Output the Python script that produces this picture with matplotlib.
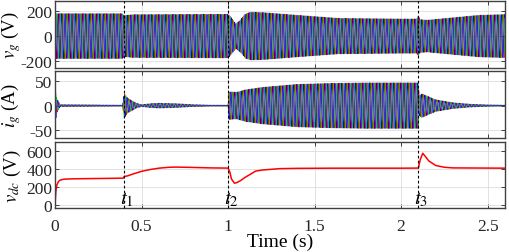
import matplotlib
matplotlib.use("Agg")
import matplotlib.pyplot as plt
import numpy as np
from matplotlib.lines import Line2D
from matplotlib.transforms import blended_transform_factory

plt.rcParams['font.family'] = ['Liberation Serif', 'DejaVu Serif']
plt.rcParams['mathtext.fontset'] = 'stix'

# event times
t_events = [0.4, 1.0, 2.1]
event_labels = ['$t_1$', '$t_2$', '$t_3$']

# grid voltage envelope (peak, V)
vg_env_t = [0, 0.39, 0.40, 0.45, 1.0, 1.01, 1.045, 1.07, 1.1, 1.13, 1.2, 1.4, 1.64,
            2.0, 2.09, 2.1, 2.11, 2.15, 2.3, 2.45, 2.6]
vg_env_a = [183, 183, 168, 175, 178, 165, 102, 130, 180, 195, 192, 170, 145,
            140, 140, 165, 135, 130, 150, 170, 176]

# grid current envelope (peak, A)
ig_env_t = [0, 0.01, 0.03, 0.39, 0.40, 0.42, 0.47, 0.5, 0.55, 0.6, 0.7, 0.8, 0.9,
            1.0, 1.005, 1.05, 1.1, 1.2, 1.4, 1.6, 1.8, 2.1, 2.105, 2.12, 2.2,
            2.3, 2.4, 2.5, 2.6]
ig_env_a = [40, 15, 2, 1, 25, 15, 5, 2, 4, 5, 4, 2, 1,
            1, 28, 27, 32, 37, 43, 45, 46, 46, 20, 24, 12,
            6, 3, 1.5, 1]

# dc-link voltage (V)
vdc_t = [0, 0.005, 0.01, 0.02, 0.03, 0.05, 0.1, 0.2, 0.3, 0.395, 0.40, 0.42, 0.45,
         0.5, 0.55, 0.6, 0.66, 0.7, 0.8, 0.9, 1.0, 1.01, 1.02, 1.037, 1.05, 1.07,
         1.1, 1.16, 1.2, 1.3, 1.4, 1.6, 2.0, 2.1, 2.11, 2.125, 2.14, 2.16, 2.2,
         2.25, 2.3, 2.6]
vdc_v = [0, 150, 220, 262, 278, 288, 292, 295, 297, 300, 318, 325, 345,
         375, 395, 410, 420, 422, 418, 413, 411, 370, 290, 244, 250, 270,
         310, 378, 390, 405, 408, 410, 410, 411, 500, 575, 540, 490, 440,
         420, 413, 410]

f_grid = 50.0
t = np.linspace(0, 2.6, 26000)
phase_colors = ['red', '#00cc00', 'blue']
phase_shift = [0, -2 * np.pi / 3, 2 * np.pi / 3]

vg_env = np.interp(t, vg_env_t, vg_env_a)
ig_env = np.interp(t, ig_env_t, ig_env_a)

fig = plt.figure(figsize=(5.09, 2.53), dpi=100)
left, width = 0.108, 0.884
ax1 = fig.add_axes([left, 0.727, width, 0.265])
ax2 = fig.add_axes([left, 0.451, width, 0.265])
ax3 = fig.add_axes([left, 0.174, width, 0.261])

for c, ph in zip(phase_colors, phase_shift):
    ax1.plot(t, vg_env * np.sin(2 * np.pi * f_grid * t + ph), color=c, lw=0.5)
    ax2.plot(t, ig_env * np.sin(2 * np.pi * f_grid * t + ph + 0.5), color=c, lw=0.5)
ax3.plot(vdc_t, vdc_v, color='red', lw=1.1)

ax1.set_ylim(-260, 285)
ax1.set_yticks([-200, 0, 200])
ax1.set_yticklabels(['-200', '0', '200'])
ax1.set_ylabel('$v_g$ (V)', fontsize=13.5)

ax2.set_ylim(-65, 70)
ax2.set_yticks([-50, 0, 50])
ax2.set_yticklabels(['-50', '0', '50'])
ax2.set_ylabel('$i_g$ (A)', fontsize=13.5)

ax3.set_ylim(-30, 700)
ax3.set_yticks([0, 200, 400, 600])
ax3.set_ylabel('$v_{dc}$ (V)', fontsize=13.5)
ax3.set_xlabel('Time (s)', fontsize=14, labelpad=-1)
ax3.set_xticks([0, 0.5, 1, 1.5, 2, 2.5])
ax3.set_xticklabels(['0', '0.5', '1', '1.5', '2', '2.5'])

for ax in (ax1, ax2, ax3):
    ax.set_xlim(0, 2.6)
    ax.yaxis.set_label_coords(-0.072, 0.5)
    ax.grid(True, color='#dddddd', lw=0.6)
    ax.set_axisbelow(True)
    ax.tick_params(direction='in', top=True, right=True, labelsize=12.5,
                   length=3, width=0.6, colors='#262626', pad=2)
    ax.tick_params(axis='x', pad=7)
    for s in ax.spines.values():
        s.set_color('#404040')
        s.set_linewidth(1.0)
for ax in (ax1, ax2):
    ax.tick_params(labelbottom=False)

trans = blended_transform_factory(ax3.transData, fig.transFigure)
for te, lab in zip(t_events, event_labels):
    fig.add_artist(Line2D([te, te], [0.174, 0.992], transform=trans,
                          color='black', ls='--', lw=0.8, dashes=(2.5, 2)))
    ax3.text(te + 0.018, 75, lab, fontsize=15, ha='center', va='center')

fig.savefig('out.png', dpi=100)
